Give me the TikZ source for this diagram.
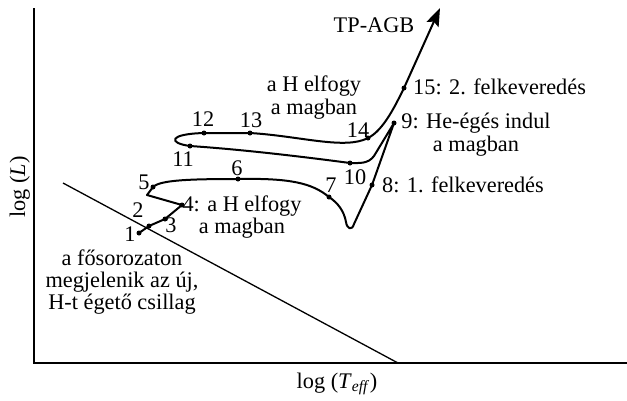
\documentclass[tikz,border=0pt]{standalone}
\usepackage{fontspec}
\setmainfont{Liberation Serif}
\usetikzlibrary{arrows.meta}
\begin{document}
\begin{tikzpicture}[x=1pt,y=-1pt,
  lbl/.style={font=\fontsize{22.3}{25}\selectfont, inner sep=0pt},
  dot/.style={circle, fill=black, inner sep=0pt, minimum size=5pt},
  track/.style={line width=2pt, line join=round},
  axisline/.style={line width=1.3pt}]
\useasboundingbox (0,0) rectangle (627,400);
% axes
\coordinate (ytop) at (34,8);
\coordinate (orig) at (34,363);
\coordinate (xend) at (627,363);
\draw[axisline] (ytop) -- (orig) -- (xend);
% main sequence
\coordinate (msa) at (63,183);
\coordinate (msb) at (398,363);
\draw[axisline] (msa) -- (msb);
% track points
\coordinate (p1) at (139,233);
\coordinate (p2) at (149,226);
\coordinate (p3) at (165,219);
\coordinate (p4) at (182,205);
\coordinate (z) at (147,195);
\coordinate (p5) at (153,187);
\coordinate (p6) at (238,179);
\coordinate (p7) at (329,197);
\coordinate (p8) at (372,185);
\coordinate (p9) at (394,123);
\coordinate (p10) at (350,163);
\coordinate (p11) at (190,146);
\coordinate (p12) at (204,133);
\coordinate (p13) at (250,133);
\coordinate (p14) at (368,138);
\coordinate (p15) at (404,88);
\coordinate (tip) at (440,8);
\draw[track] (p1) -- (p2) -- (p3) -- (p4) -- (z) -- (p5)
  .. controls (160,180) and (190,179) .. (p6)
  .. controls (290,178) and (312,183) .. (p7)
  .. controls (338,203) and (344,211) .. (346,222)
  .. controls (347,229) and (352,231) .. (354,224)
  -- (p8) -- (p9) -- (374,156)
  .. controls (368,164) and (360,163) .. (p10)
  .. controls (320,159) and (250,150) .. (p11)
  .. controls (168,143) and (168,134) .. (p12) -- (p13)
  .. controls (300,136) and (345,150) .. (p14)
  .. controls (384,130) and (396,104) .. (p15);
\draw[track,-{Stealth[length=18pt,width=13pt,inset=3pt]}] (p15) -- (tip);
% dots
\foreach \p in {p1,p2,p3,p4,p5,p6,p7,p8,p9,p10,p11,p12,p13,p14,p15}
  \node[dot] (d\p) at (\p) {};
% numbers
\node[lbl] (n1) at (130,234) {1};
\node[lbl] (n2) at (138,210) {2};
\node[lbl] (n3) at (171,225) {3};
\node[lbl] (n5) at (144,182) {5};
\node[lbl] (n6) at (237,168) {6};
\node[lbl] (n7) at (331,185) {7};
\node[lbl] (n10) at (355,177) {10};
\node[lbl] (n11) at (183,159) {11};
\node[lbl] (n12) at (203,119) {12};
\node[lbl] (n13) at (251,120) {13};
\node[lbl] (n14) at (358,130) {14};
% texts
\node[lbl,anchor=base] (tpagb) at (374,32) {TP-AGB};
\node[lbl,anchor=base] (ha1) at (314,91) {a H elfogy};
\node[lbl,anchor=base] (ha2) at (314,114) {a magban};
\node[lbl,anchor=base west] (t15) at (413,94) {15: 2. felkeveredés};
\node[lbl,anchor=base] (t9a) at (476,128) {9: He-égés indul};
\node[lbl,anchor=base] (t9b) at (476,151) {a magban};
\node[lbl,anchor=base west] (t8) at (382,192) {8: 1. felkeveredés};
\node[lbl,anchor=base] (t4a) at (242,211) {4: a H elfogy};
\node[lbl,anchor=base] (t4b) at (242,233) {a magban};
\node[lbl,anchor=base] (ms1) at (122,265) {a fősorozaton};
\node[lbl,anchor=base] (ms2) at (122,287) {megjelenik az új,};
\node[lbl,anchor=base] (ms3) at (122,309) {H-t égető csillag};
\node[lbl,anchor=base] (xlab) at (337,388) {log (\textit{T}\textsubscript{\textit{eff}})};
\node[lbl,anchor=base,rotate=90] (ylab) at (25,187) {log (\textit{L})};
\end{tikzpicture}
\end{document}
